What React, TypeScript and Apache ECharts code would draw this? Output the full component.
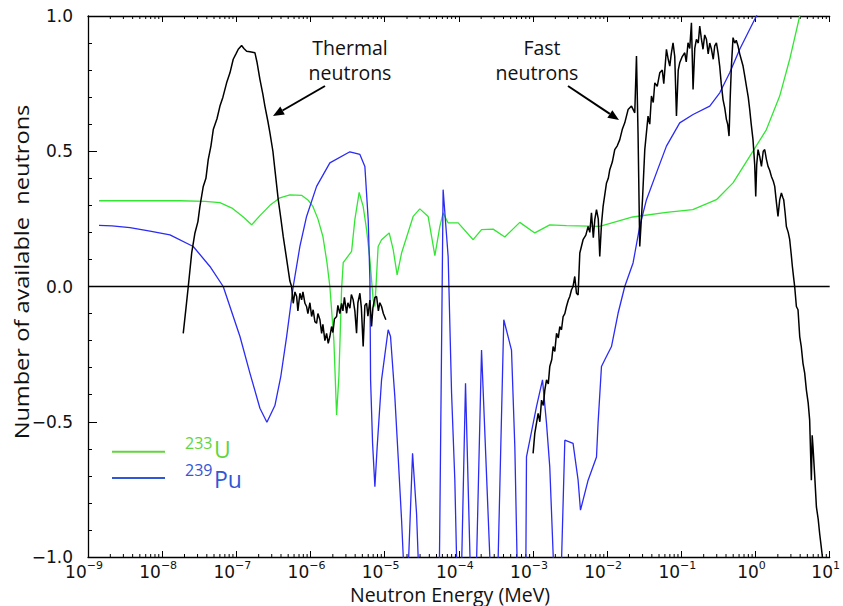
import React, { useEffect, useRef } from "react";
import * as echarts from "echarts";

// x = log10(neutron energy / MeV), y = number of available neutrons
const u233Curve: number[][] = [
  [-8.852, 0.317], [-8.569, 0.317], [-8.164, 0.317], [-7.76, 0.317], [-7.423, 0.315], [-7.221, 0.31],
  [-7.059, 0.29], [-6.898, 0.255], [-6.794, 0.228], [-6.682, 0.262], [-6.547, 0.3], [-6.412, 0.328],
  [-6.278, 0.339], [-6.12, 0.337], [-6.035, 0.32], [-5.968, 0.296], [-5.9, 0.25], [-5.833, 0.185],
  [-5.779, 0.09], [-5.739, 0.0], [-5.685, -0.2], [-5.648, -0.475], [-5.617, -0.33], [-5.581, -0.01],
  [-5.559, 0.088], [-5.446, 0.13], [-5.402, 0.247], [-5.344, 0.348], [-5.29, 0.296], [-5.244, 0.21],
  [-5.199, 0.099], [-5.155, -0.05], [-5.132, -0.074], [-5.088, 0.148], [-5.042, 0.173], [-4.939, 0.198],
  [-4.885, 0.136], [-4.832, 0.043], [-4.772, 0.124], [-4.616, 0.259], [-4.526, 0.287], [-4.414, 0.259],
  [-4.323, 0.114], [-4.256, 0.222], [-4.212, 0.272], [-4.144, 0.235], [-4.009, 0.235], [-3.807, 0.173],
  [-3.694, 0.21], [-3.538, 0.212], [-3.38, 0.183], [-3.178, 0.237], [-2.976, 0.198], [-2.774, 0.228],
  [-2.549, 0.225], [-2.1, 0.222], [-1.655, 0.257], [-1.201, 0.274], [-0.846, 0.284], [-0.527, 0.321],
  [-0.303, 0.383], [-0.078, 0.481], [0.147, 0.58], [0.326, 0.704], [0.461, 0.84], [0.596, 1.0], [0.663, 1.1],
];

const pu239Curve: number[][] = [
  [-8.852, 0.226], [-8.677, 0.224], [-8.434, 0.218], [-8.164, 0.205], [-7.895, 0.191], [-7.581, 0.148],
  [-7.356, 0.074], [-7.177, 0.0], [-6.951, -0.185], [-6.817, -0.32], [-6.682, -0.45], [-6.588, -0.502],
  [-6.48, -0.44], [-6.399, -0.33], [-6.322, -0.185], [-6.233, 0.0], [-6.143, 0.148], [-6.053, 0.259],
  [-5.918, 0.37], [-5.739, 0.457], [-5.469, 0.498], [-5.334, 0.488], [-5.267, 0.444], [-5.222, 0.247],
  [-5.199, 0.025], [-5.19, -0.345], [-5.163, -0.58], [-5.132, -0.74], [-5.101, -0.593], [-5.042, -0.345],
  [-4.953, -0.16], [-4.921, -0.185], [-4.863, -0.407], [-4.818, -0.63], [-4.772, -0.864], [-4.741, -1.05],
  [-4.683, -1.05], [-4.624, -0.617], [-4.57, -0.84], [-4.542, -1.05], [-4.263, -1.05], [-4.212, 0.358],
  [-4.144, 0.11], [-4.098, -0.395], [-4.054, -0.716], [-4.027, -1.05], [-3.964, -1.05], [-3.91, -0.358],
  [-3.845, -1.05], [-3.764, -1.05], [-3.694, -0.235], [-3.575, -1.05], [-3.474, -1.05], [-3.394, -0.123],
  [-3.29, -0.235], [-3.245, -0.593], [-3.212, -1.05], [-3.097, -1.05], [-3.088, -0.63], [-2.953, -0.444],
  [-2.872, -0.345], [-2.818, -0.506], [-2.774, -0.667], [-2.72, -1.05], [-2.619, -1.05], [-2.571, -0.568],
  [-2.46, -0.58], [-2.392, -0.716], [-2.36, -0.827], [-2.257, -0.716], [-2.144, -0.63], [-2.123, -0.506],
  [-2.077, -0.296], [-2.032, -0.271], [-1.942, -0.222], [-1.853, -0.099], [-1.763, 0.0], [-1.651, 0.087],
  [-1.561, 0.222], [-1.47, 0.321], [-1.336, 0.42], [-1.201, 0.519], [-1.022, 0.605], [-0.842, 0.636],
  [-0.617, 0.667], [-0.482, 0.716], [-0.348, 0.79], [-0.213, 0.877], [-0.078, 0.951], [0.012, 1.0], [0.084, 1.05],
];

const thermalCurve: number[][] = [
  [-7.716, -0.173], [-7.679, -0.08], [-7.648, 0.0], [-7.602, 0.124], [-7.558, 0.198], [-7.518, 0.24],
  [-7.491, 0.296], [-7.446, 0.37], [-7.41, 0.4], [-7.379, 0.469], [-7.342, 0.52], [-7.311, 0.58],
  [-7.261, 0.62], [-7.221, 0.667], [-7.181, 0.7], [-7.131, 0.753], [-7.086, 0.79], [-7.042, 0.84],
  [-7.005, 0.86], [-6.974, 0.877], [-6.929, 0.891], [-6.898, 0.88], [-6.861, 0.87], [-6.817, 0.868],
  [-6.749, 0.864], [-6.722, 0.83], [-6.682, 0.766], [-6.642, 0.71], [-6.615, 0.667], [-6.574, 0.61],
  [-6.547, 0.568], [-6.507, 0.5], [-6.48, 0.432], [-6.435, 0.321], [-6.399, 0.25], [-6.368, 0.185],
  [-6.332, 0.12], [-6.301, 0.062], [-6.278, 0.02], [-6.255, 0.0], [-6.233, -0.062], [-6.21, -0.02],
  [-6.187, -0.037], [-6.17, -0.09], [-6.143, -0.025], [-6.12, -0.049], [-6.102, -0.02], [-6.075, -0.062],
  [-6.053, -0.074], [-6.035, -0.1], [-6.008, -0.06], [-5.985, -0.111], [-5.964, -0.086], [-5.941, -0.13],
  [-5.918, -0.136], [-5.9, -0.1], [-5.873, -0.123], [-5.85, -0.173], [-5.833, -0.14], [-5.806, -0.2],
  [-5.783, -0.173], [-5.761, -0.21], [-5.739, -0.185], [-5.716, -0.148], [-5.698, -0.17], [-5.678, -0.12],
  [-5.648, -0.111], [-5.631, -0.07], [-5.604, -0.1], [-5.581, -0.062], [-5.563, -0.09], [-5.543, -0.04],
  [-5.513, -0.099], [-5.496, -0.06], [-5.469, -0.08], [-5.449, -0.03], [-5.425, -0.049], [-5.402, -0.09],
  [-5.379, -0.173], [-5.361, -0.06], [-5.334, -0.025], [-5.314, -0.08], [-5.29, -0.222], [-5.267, -0.07],
  [-5.244, -0.062], [-5.226, -0.11], [-5.199, -0.05], [-5.177, -0.148], [-5.159, -0.08], [-5.132, -0.04],
  [-5.109, -0.037], [-5.085, -0.09], [-5.065, -0.06], [-5.042, -0.074], [-5.018, -0.1], [-4.984, -0.123],
];

const fastCurve: number[][] = [
  [-2.999, -0.617], [-2.976, -0.543], [-2.931, -0.469], [-2.908, -0.5], [-2.885, -0.42], [-2.861, -0.44],
  [-2.841, -0.383], [-2.818, -0.345], [-2.794, -0.36], [-2.774, -0.296], [-2.747, -0.27], [-2.729, -0.222],
  [-2.706, -0.24], [-2.683, -0.173], [-2.659, -0.19], [-2.639, -0.148], [-2.616, -0.16], [-2.594, -0.111],
  [-2.571, -0.1], [-2.549, -0.074], [-2.524, -0.05], [-2.504, -0.037], [-2.481, -0.012], [-2.46, 0.0],
  [-2.437, 0.037], [-2.414, -0.025], [-2.392, -0.031], [-2.369, 0.124], [-2.325, 0.173], [-2.288, 0.19],
  [-2.257, 0.222], [-2.234, 0.2], [-2.212, 0.272], [-2.187, 0.18], [-2.167, 0.247], [-2.144, 0.284],
  [-2.12, 0.25], [-2.1, 0.111], [-2.077, 0.23], [-2.055, 0.296], [-2.009, 0.383], [-1.985, 0.4],
  [-1.965, 0.432], [-1.931, 0.46], [-1.898, 0.506], [-1.864, 0.52], [-1.83, 0.543], [-1.797, 0.58],
  [-1.763, 0.605], [-1.718, 0.654], [-1.672, 0.667], [-1.628, 0.642], [-1.605, 0.852], [-1.584, 0.568],
  [-1.561, 0.148], [-1.524, 0.321], [-1.493, 0.506], [-1.449, 0.63], [-1.426, 0.6], [-1.403, 0.704],
  [-1.379, 0.68], [-1.358, 0.753], [-1.325, 0.74], [-1.291, 0.79], [-1.257, 0.8], [-1.237, 0.75],
  [-1.201, 0.877], [-1.177, 0.84], [-1.156, 0.815], [-1.136, 0.86], [-1.112, 0.901], [-1.089, 0.85],
  [-1.066, 0.63], [-1.042, 0.8], [-1.022, 0.827], [-0.988, 0.85], [-0.954, 0.864], [-0.934, 0.83],
  [-0.91, 0.901], [-0.887, 0.88], [-0.864, 0.975], [-0.842, 0.728], [-0.819, 0.88], [-0.797, 0.914],
  [-0.772, 0.9], [-0.752, 0.963], [-0.732, 0.92], [-0.708, 0.877], [-0.685, 0.93], [-0.662, 0.914],
  [-0.638, 0.86], [-0.617, 0.9], [-0.594, 0.877], [-0.57, 0.84], [-0.55, 0.89], [-0.527, 0.901],
  [-0.503, 0.86], [-0.483, 0.815], [-0.462, 0.75], [-0.438, 0.691], [-0.415, 0.66], [-0.392, 0.617],
  [-0.375, 0.6], [-0.357, 0.556], [-0.341, 0.7], [-0.325, 0.815], [-0.303, 0.92], [-0.28, 0.9],
  [-0.26, 0.91], [-0.236, 0.889], [-0.213, 0.86], [-0.193, 0.84], [-0.168, 0.815], [-0.146, 0.78],
  [-0.123, 0.741], [-0.098, 0.7], [-0.078, 0.654], [-0.058, 0.6], [-0.034, 0.543], [-0.011, 0.45],
  [0.003, 0.333], [0.016, 0.45], [0.034, 0.506], [0.057, 0.48], [0.08, 0.444], [0.104, 0.5],
  [0.124, 0.506], [0.147, 0.47], [0.169, 0.444], [0.191, 0.43], [0.214, 0.407], [0.239, 0.39],
  [0.259, 0.37], [0.282, 0.31], [0.303, 0.259], [0.326, 0.32], [0.349, 0.346], [0.367, 0.33],
  [0.38, 0.321], [0.4, 0.27], [0.416, 0.222], [0.441, 0.2], [0.461, 0.173], [0.481, 0.12],
  [0.497, 0.074], [0.515, 0.03], [0.528, 0.0], [0.551, -0.074], [0.573, -0.086], [0.596, -0.185],
  [0.616, -0.22], [0.64, -0.284], [0.663, -0.32], [0.686, -0.383], [0.71, -0.43], [0.73, -0.494],
  [0.753, -0.716], [0.764, -0.55], [0.775, -0.593], [0.798, -0.7], [0.821, -0.815], [0.845, -0.86],
  [0.865, -0.914], [0.885, -0.96], [0.902, -1.0], [0.919, -1.05],
];

const xMinExp = -9;
const xMaxExp = 1;
const minorMultipliers = [2, 3, 4, 5, 6, 7, 8, 9];

const toEnergy = (pts: number[][]) => pts.map(([l, v]) => [Math.pow(10, l), v]);

const GREEN = "#33e633";
const BLUE = "#2b2bf5";
const LEG_GREEN = "#62d43c";
const LEG_BLUE = "#2f57d6";

export default function App() {
  const ref = useRef<HTMLDivElement>(null);

  useEffect(() => {
    if (!ref.current) return;
    const chart = echarts.init(ref.current, null, { renderer: "svg" });

    const minorTicks: number[][] = [];
    for (let n = xMinExp; n < xMaxExp; n++) {
      for (const k of minorMultipliers) minorTicks.push([k * Math.pow(10, n), 0]);
    }

    const axisLine = { show: true, onZero: false, lineStyle: { color: "#000", width: 1.3 } };
    const xBase: any = {
      type: "log",
      logBase: 10,
      min: Math.pow(10, xMinExp),
      max: Math.pow(10, xMaxExp),
      interval: 1,
      splitNumber: 10,
      axisLine,
      axisTick: { show: true, inside: true, length: 6, lineStyle: { color: "#000", width: 1 } },
      splitLine: { show: false },
      minorTick: { show: false },
      minorSplitLine: { show: false },
    };

    const supMinus = (n: number) => (n < 0 ? "\u2212" + Math.abs(n) : String(n));

    const lineSeries = (name: string, pts: number[][], color: string, width: number, z: number) => ({
      name,
      type: "line",
      data: toEnergy(pts),
      showSymbol: false,
      symbol: "none",
      smooth: false,
      clip: true,
      silent: true,
      z,
      lineStyle: { color, width },
    });

    const arrow = (sx: number, sy: number, tx: number, ty: number) => {
      const dx = tx - sx;
      const dy = ty - sy;
      const len = Math.sqrt(dx * dx + dy * dy);
      const ux = dx / len;
      const uy = dy / len;
      const hl = 11;
      const hw = 4.5;
      const bx = tx - ux * hl;
      const by = ty - uy * hl;
      return [
        { type: "line", shape: { x1: sx, y1: sy, x2: bx, y2: by }, style: { stroke: "#000", lineWidth: 2 } },
        {
          type: "polygon",
          shape: { points: [[tx, ty], [bx - uy * hw, by + ux * hw], [bx + uy * hw, by - ux * hw]] },
          style: { fill: "#000" },
        },
      ];
    };

    const txt = (text: string, x: number, y: number, size: number, color: string, align = "center", extra: any = {}) => ({
      type: "text",
      x,
      y,
      ...extra,
      style: {
        text,
        fontFamily: "Open Sans",
        fontSize: size,
        fill: color,
        align,
        textAlign: align,
        verticalAlign: "middle",
        textVerticalAlign: "middle",
      },
    });

    const option: any = {
      animation: false,
      backgroundColor: "#fff",
      textStyle: { fontFamily: "DejaVu Sans" },
      grid: { left: 88, right: 13, top: 16, bottom: 49, containLabel: false },
      xAxis: [
        {
          ...xBase,
          position: "bottom",
          axisLabel: {
            show: true,
            margin: 3,
            padding: [0, 8, 0, 0],
            formatter: (v: number) => `{b|10}{s|${supMinus(Math.round(Math.log10(v)))}}`,
            rich: {
              b: { fontFamily: "DejaVu Sans", fontSize: 17, lineHeight: 24, color: "#111" },
              s: { fontFamily: "DejaVu Sans", fontSize: 11, lineHeight: 11, verticalAlign: "top", color: "#111" },
            },
          },
        },
        { ...xBase, position: "top", axisLabel: { show: false } },
      ],
      yAxis: {
        type: "value",
        min: -1,
        max: 1,
        interval: 0.5,
        axisLine,
        axisTick: { show: true, inside: true, length: 9, lineStyle: { color: "#000", width: 1 } },
        minorTick: { show: true, splitNumber: 5, length: 4, lineStyle: { color: "#000", width: 1 } },
        splitLine: { show: false },
        axisLabel: {
          margin: 15,
          fontFamily: "DejaVu Sans",
          fontSize: 17,
          color: "#111",
          formatter: (v: number) => v.toFixed(1).replace("-", "\u2212"),
        },
      },
      series: [
        {
          type: "custom",
          silent: true,
          clip: false,
          xAxisIndex: 0,
          yAxisIndex: 0,
          data: minorTicks,
          encode: { x: 0, y: 1 },
          z: 1,
          renderItem: (_p: any, api: any) => {
            const xv = api.value(0);
            const b = api.coord([xv, -1]);
            const t = api.coord([xv, 1]);
            const st = { stroke: "#000", lineWidth: 1 };
            return {
              type: "group",
              children: [
                { type: "line", shape: { x1: b[0], y1: b[1], x2: b[0], y2: b[1] - 3 }, style: st },
                { type: "line", shape: { x1: t[0], y1: t[1], x2: t[0], y2: t[1] + 3 }, style: st },
              ],
            };
          },
        },
        {
          ...lineSeries("233U", u233Curve, GREEN, 1.3, 3),
          markLine: {
            silent: true,
            symbol: "none",
            label: { show: false },
            lineStyle: { color: "#000", width: 1.3, type: "solid" },
            data: [{ yAxis: 0 }],
          },
        },
        lineSeries("239Pu", pu239Curve, BLUE, 1.3, 4),
        lineSeries("thermal", thermalCurve, "#000", 1.5, 5),
        lineSeries("fast", fastCurve, "#000", 1.5, 5),
      ],
      graphic: [
        txt("Number of available  neutrons", 21, 272, 20, "#111", "center", { rotation: Math.PI / 2, scaleX: 1.18 }),
        txt("Neutron Energy (MeV)", 450, 594, 19.5, "#111"),
        txt("Thermal", 350, 47, 19.5, "#111"),
        txt("neutrons", 350, 72.5, 19.5, "#111"),
        txt("Fast", 542, 47, 19.5, "#111"),
        txt("neutrons", 537, 72.5, 19.5, "#111"),
        ...arrow(325, 86, 273, 116),
        ...arrow(568, 86, 619, 120),
        { type: "line", shape: { x1: 112, y1: 451.7, x2: 165, y2: 451.7 }, style: { stroke: LEG_GREEN, lineWidth: 2 } },
        { type: "line", shape: { x1: 112, y1: 478, x2: 165, y2: 478 }, style: { stroke: LEG_BLUE, lineWidth: 2 } },
        txt("233", 185, 443, 16, LEG_GREEN, "left"),
        txt("U", 214, 449, 23, LEG_GREEN, "left"),
        txt("239", 185, 469.5, 16, LEG_BLUE, "left"),
        txt("Pu", 214, 478.5, 23, LEG_BLUE, "left"),
      ],
    };

    chart.setOption(option);
    return () => chart.dispose();
  }, []);

  return (
    <div
      ref={ref}
      style={{ position: "fixed", left: 0, top: 0, width: 843, height: 606, background: "#fff" }}
    />
  );
}
